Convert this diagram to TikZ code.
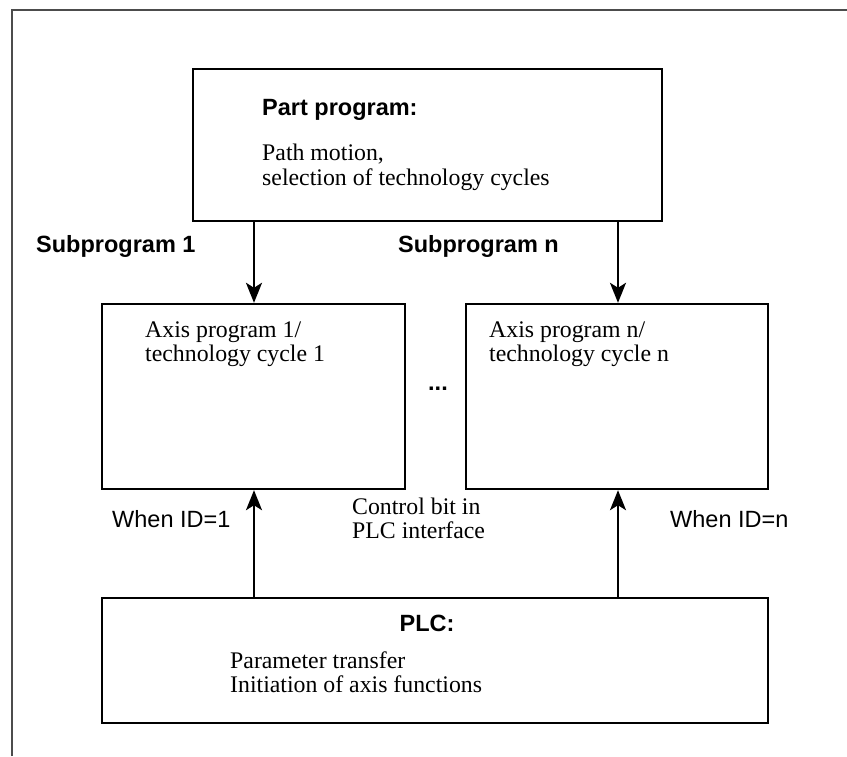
\documentclass[tikz,border=0pt]{standalone}
\usepackage{fontspec}
\setmainfont{Liberation Serif}
\setsansfont{Liberation Sans}
\usetikzlibrary{arrows.meta,calc}
\tikzset{
  box/.style={draw=black,line width=2.4pt,fill=white,inner sep=0pt},
  conn/.style={line width=2.4pt,-{Stealth[length=20pt,width=16pt,inset=5pt]}},
  hd/.style={anchor=base west,inner sep=0pt,font=\sffamily\bfseries\fontsize{23.5}{25}\selectfont},
  lbl/.style={anchor=base west,inner sep=0pt,font=\sffamily\fontsize{23.5}{25}\selectfont},
  txt/.style={anchor=base west,inner sep=0pt,font=\rmfamily\fontsize{23.8}{25}\selectfont,align=left},
  frameline/.style={draw=black!70,line width=2pt}
}
\begin{document}
\begin{tikzpicture}[x=1pt,y=-1pt]
\useasboundingbox (0,0) rectangle (847,756);
\fill[white] (0,0) rectangle (847,756);
\draw[frameline] (12,756) -- (12,9.5) -- (847,9.5);
% boxes
\node[box,minimum width=469pt,minimum height=152pt] (top) at (427.5,145) {};
\node[box,minimum width=303pt,minimum height=185pt] (sub1) at (253.5,396.5) {};
\node[box,minimum width=302pt,minimum height=185pt] (subn) at (617,396.5) {};
\node[box,minimum width=666pt,minimum height=125pt] (plc) at (435,660.5) {};
% arrow x positions
\coordinate (ax1) at (254,0);
\coordinate (axn) at (618,0);
\draw[conn] (top.south -| ax1) -- (sub1.north -| ax1);
\draw[conn] (top.south -| axn) -- (subn.north -| axn);
\draw[conn] (plc.north -| ax1) -- (sub1.south -| ax1);
\draw[conn] (plc.north -| axn) -- (subn.south -| axn);
% texts
\node[hd] (tph) at (262,115) {Part program:};
\node[txt] (tpt1) at (262,160) {Path motion,};
\node[txt] (tpt2) at (262,185) {selection of technology cycles};
\node[hd] (s1) at (36,252) {Subprogram 1};
\node[hd] (sn) at (398,252) {Subprogram n};
\node[txt] (a11) at (145,337) {Axis program 1/};
\node[txt] (a12) at (145,361) {technology cycle 1};
\node[txt] (an1) at (489,337) {Axis program n/};
\node[txt] (an2) at (489,361) {technology cycle n};
\node[hd,anchor=base] (dots) at (438,390) {...};
\node[lbl] (w1) at (112,527) {When ID=1};
\node[txt] (cb1) at (352,514) {Control bit in};
\node[txt] (cb2) at (352,538) {PLC interface};
\node[lbl] (wn) at (670,527) {When ID=n};
\node[hd,anchor=base] (plch) at (427,631) {PLC:};
\node[txt] (p1) at (230,668) {Parameter transfer};
\node[txt] (p2) at (230,692) {Initiation of axis functions};
\end{tikzpicture}
\end{document}
